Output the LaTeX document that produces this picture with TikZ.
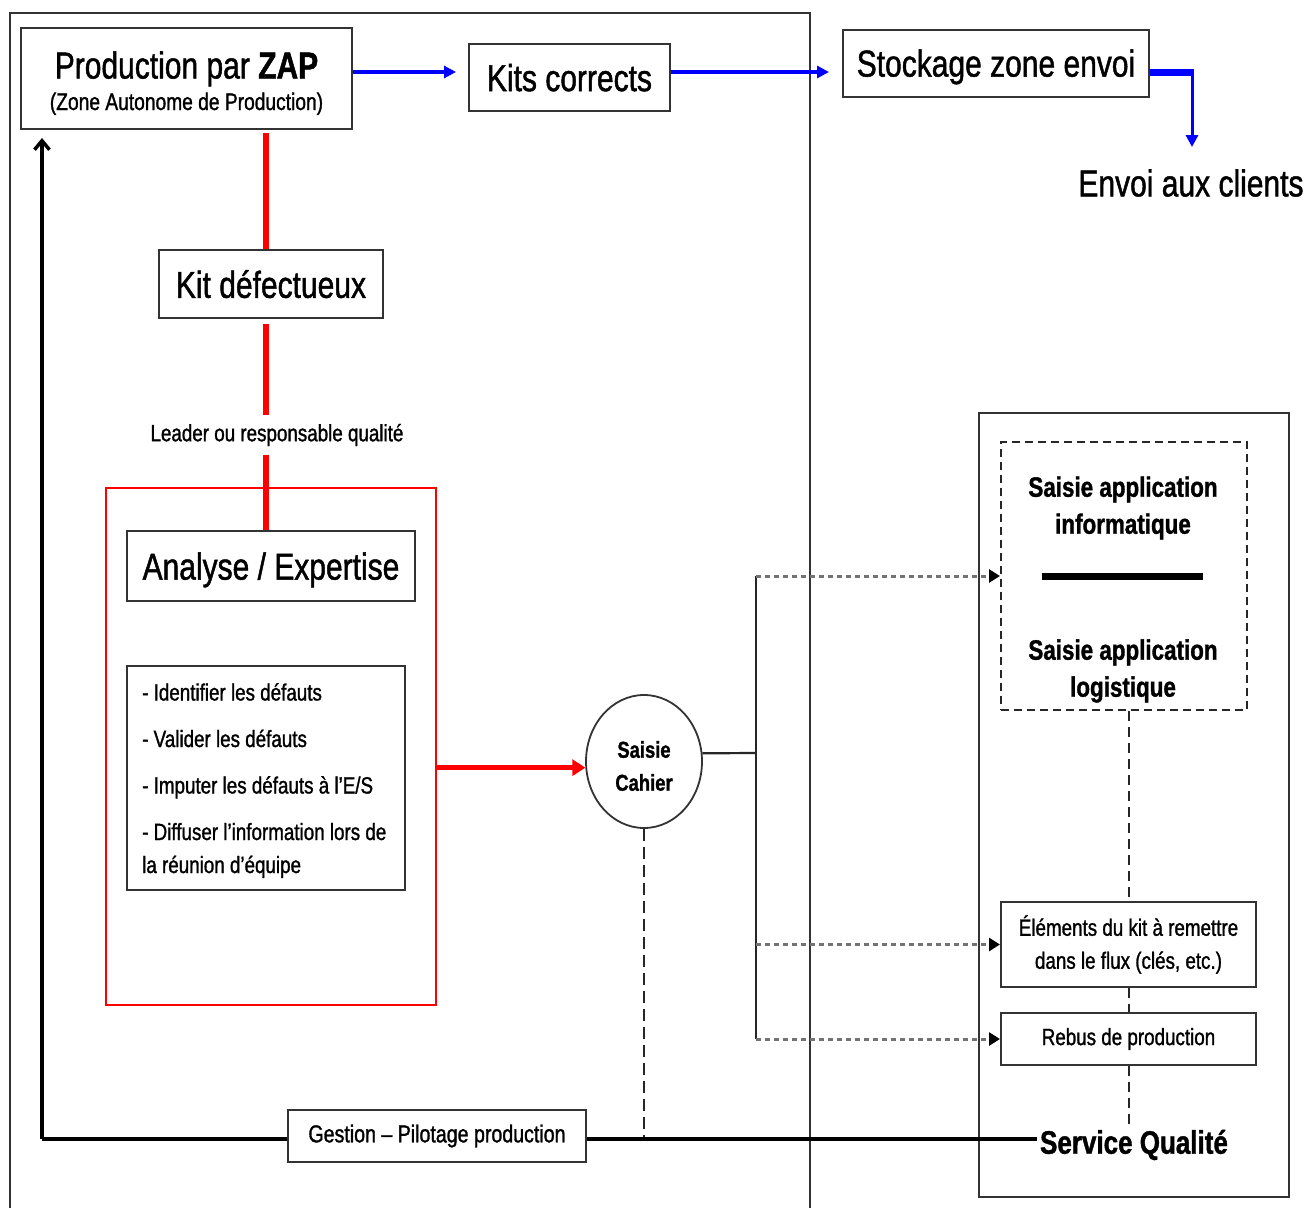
\documentclass[tikz,border=0pt]{standalone}
\usepackage{fontspec}
\setmainfont{Liberation Sans}[FakeStretch=0.8, RawFeature={embolden=1.2}]
\usetikzlibrary{arrows.meta,shapes.geometric,calc}

\newcommand\fbig{\fontsize{37.5}{44}\selectfont}
\newcommand\fsmall{\fontsize{23.5}{33}\selectfont}

\begin{document}
\begin{tikzpicture}[x=1pt,y=-1pt,
  box/.style={draw=black!80, line width=2pt, fill=white, inner sep=0pt},
  bigbox/.style={box, font=\fbig, text depth=0pt},
  frameline/.style={draw=black!80, line width=2pt},
  redline/.style={draw=red, line width=6.5pt},
  flowarrow/.style={draw=blue, line width=4pt, -{Triangle[length=12pt,width=12pt]}},
  dotarrow/.style={draw=black!55, line width=3pt, dash pattern=on 5pt off 4pt,
     -{Triangle[length=11pt,width=13pt,color=black]}},
  bus/.style={draw=black!85, line width=2.2pt},
  vdash/.style={draw=black!85, line width=2pt, dash pattern=on 10pt off 6pt},
]
\useasboundingbox (0,0) rectangle (1307,1208);

% outer frame of the production area and of the quality service
\draw[frameline] (10,1208) -- (10,13) -- (810,13) -- (810,1208);
\node[draw=black!80, line width=2.2pt, minimum width=310, minimum height=784, inner sep=0pt] (sqbox) at (1134,805) {};

% red analysis area
\node[draw=red, line width=2pt, minimum width=330, minimum height=517, inner sep=0pt] (redbox) at (271,746.5) {};

% production unit
\node[box, minimum width=331, minimum height=101] (zap) at (186.5,78.5) {};
\node[font=\fbig, anchor=base, inner sep=0pt] (zaptitle) at (186.5,78.5) {Production par \textbf{ZAP}};
\node[font=\fontsize{24}{28}\selectfont, anchor=base, inner sep=0pt] (zapsub) at (186.5,110) {(Zone Autonome de Production)};

\node[bigbox, minimum width=201, minimum height=67] (kits) at (569.5,77.5) {Kits corrects};
\node[bigbox, minimum width=306, minimum height=67] (stock) at (996,63) {Stockage zone envoi};
\node[font=\fbig, inner sep=0pt] (envoi) at (1191,183) {Envoi aux clients};

\node[bigbox, minimum width=224, minimum height=68] (kitdef) at (271,284) {Kit défectueux};
\node[font=\fsmall, inner xsep=0pt, inner ysep=9pt] (leader) at (277,435) {Leader ou responsable qualité};
\node[bigbox, minimum width=288, minimum height=70] (analyse) at (271,566) {Analyse / Expertise};
\node[box, minimum width=278, minimum height=224] (tasks) at (266,778) {};
\node[font=\fsmall, align=left, anchor=north west, inner sep=0pt] (tasklist) at (142,683)
  {- Identifier les défauts\\[13.5pt]
   - Valider les défauts\\[13.5pt]
   - Imputer les défauts à l’E/S\\[13.5pt]
   - Diffuser l’information lors de\\
   la réunion d’équipe};

% logbook entry
\node[ellipse, draw=black!80, line width=1.8pt, fill=white, minimum width=116, minimum height=133, inner sep=0pt] (saisie) at (644,761.5) {};
\node[align=center, font=\fontsize{23}{33}\selectfont\bfseries, inner sep=0pt] (saisietxt) at (644,766) {Saisie\\Cahier};

% quality service side
\node[draw=black!85, line width=2pt, dash pattern=on 8pt off 5pt, minimum width=246, minimum height=268, inner sep=0pt] (dbox) at (1124,576) {};
\node[align=center, font=\fontsize{28}{37}\selectfont\bfseries] (appinfo) at (1123,508) {Saisie application\\informatique};
\node[align=center, font=\fontsize{28}{37}\selectfont\bfseries] (applog) at (1123,671) {Saisie application\\logistique};
\draw[line width=7pt] (1042,576) -- (1203,576);

\node[box, minimum width=255, minimum height=85, align=center, font=\fsmall] (elem) at (1128.5,944.5)
  {Éléments du kit à remettre\\dans le flux (clés, etc.)};
\node[box, minimum width=255, minimum height=52, font=\fsmall] (rebus) at (1128.5,1039) {Rebus de production};
\node[font=\fontsize{32.5}{38}\selectfont\bfseries, inner sep=3pt] (sq) at (1134,1145) {Service Qualité};

\node[box, minimum width=298, minimum height=52, font=\fontsize{24.5}{30}\selectfont] (gestion) at (437,1136) {Gestion – Pilotage production};

% coordinates of the connector routes
\coordinate (flowy) at (0,72);
\coordinate (turn) at (1192,72);
\coordinate (rx) at (266,0);
\coordinate (corner) at (42,1139);
\coordinate (bus) at (756,753);

% flow of correct kits
\draw[flowarrow] (zap.east |- flowy) -- ([xshift=-12pt]kits.west |- flowy);
\draw[flowarrow] (kits.east |- flowy) -- ([xshift=-13pt]stock.west |- flowy);
\draw[blue, line width=7pt] (stock.east |- flowy) -- ([xshift=2pt]turn);
\draw[flowarrow, line width=3pt] (turn) -- ([yshift=22pt]envoi.north -| turn);

% defective kit path
\draw[redline] ([yshift=-3pt]zap.south -| rx) -- (kitdef.north -| rx);
\draw[redline] ([yshift=-5pt]kitdef.south -| rx) -- (leader.north -| rx);
\draw[redline] (leader.south -| rx) -- (analyse.north -| rx);
\draw[draw=red, line width=5pt, -{Triangle[length=13pt,width=16pt]}] (saisie.186 -| redbox.east) -- (saisie.186);

% distribution of the recorded information
\draw[bus] (saisie.8) -- (bus);
\draw[bus] (bus |- dbox.west) -- (bus |- rebus.west);
\draw[dotarrow] (bus |- dbox.west) -- (dbox.west);
\draw[dotarrow] (bus |- elem.west) -- (elem.west);
\draw[dotarrow] (bus |- rebus.west) -- (rebus.west);

\draw[vdash] (elem.north |- dbox.south) -- (elem.north);
\draw[vdash] (elem.south) -- (rebus.north);
\draw[vdash] (rebus.south) -- (rebus.south |- sq.north);
\draw[draw=black!85, line width=2pt, dash pattern=on 12pt off 6pt] (saisie.south) -- (saisie.south |- corner);

% feedback loop to production
\draw[line width=4.5pt] (sq.west |- corner) -- (gestion.east |- corner);
\draw[line width=4.5pt] (gestion.west |- corner) -- (corner);
\draw[line width=3.5pt, -{Straight Barb[length=9pt,width=15pt]}] (corner) -- ([yshift=-8pt]zap.south -| corner);
\end{tikzpicture}
\end{document}
